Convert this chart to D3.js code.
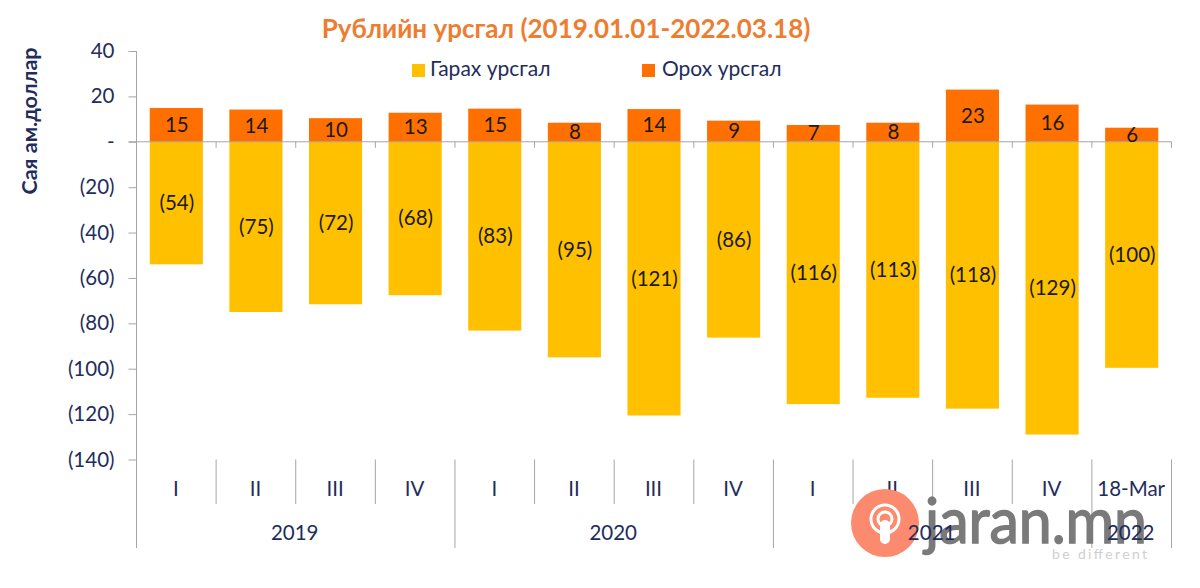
<!DOCTYPE html>
<html>
<head>
<meta charset="utf-8">
<script src="https://cdn.jsdelivr.net/npm/d3@7"></script>
<style>
  html, body { margin: 0; padding: 0; background: #fff; }
  text { font-family: Lato, "Open Sans", sans-serif; }
</style>
</head>
<body>
<script>
// values, million USD
var quarters = ["I","II","III","IV","I","II","III","IV","I","II","III","IV","18-Mar"];
var years = ["2019","2020","2021","2022"];
var yearSpans = [4,4,4,1];
var inflow = [14.9,14.2,10.4,12.8,14.6,8.4,14.4,9.3,7.4,8.4,23,16.4,6.2];
var outflow = [-54,-75,-71.6,-67.6,-83.2,-95,-120.6,-86.3,-115.6,-112.8,-117.6,-129,-99.6];
var yTicks = [40,20,0,-20,-40,-60,-80,-100,-120,-140];

var width = 1200, height = 588;
var navy = "#1f2d5c", grey = "#a6a6a6";
var colorIn = "#ff7000", colorOut = "#ffc000";
var fs = 20.5;

var svg = d3.select("body").append("svg")
    .attr("width", width)
    .attr("height", height)
    .style("display", "block");

var y = d3.scaleLinear().domain([40, -140]).range([51, 459.5]);
var x = d3.scaleBand()
    .domain(d3.range(quarters.length))
    .range([136.5, 1171.5])
    .paddingInner(0.333)
    .paddingOuter(0.1665);

var fmt = v => v === 0 ? "-" : v < 0 ? `(${Math.round(-v)})` : `${Math.round(v)}`;

// title
svg.append("text")
    .attr("x", 566).attr("y", 38)
    .attr("text-anchor", "middle")
    .attr("font-size", 26).attr("font-weight", 700)
    .attr("fill", "#ed7d31")
    .text("Рублийн урсгал (2019.01.01-2022.03.18)");

// y axis title
svg.append("text")
    .attr("transform", "translate(37,121) rotate(-90)")
    .attr("text-anchor", "middle")
    .attr("font-size", 21.5).attr("font-weight", 700)
    .attr("fill", navy)
    .text("Сая ам.доллар");

// legend
var legend = [
  {name: "Гарах урсгал", color: colorOut, sx: 412, tx: 430},
  {name: "Орох урсгал", color: colorIn, sx: 642, tx: 662}
];
legend.forEach(d => {
  svg.append("rect").attr("x", d.sx).attr("y", 64).attr("width", 13).attr("height", 13).attr("fill", d.color);
  svg.append("text").attr("x", d.tx).attr("y", 76)
      .attr("font-size", 21).attr("fill", navy).text(d.name);
});

// bars
svg.append("g").attr("fill", colorOut)
  .selectAll("rect").data(outflow).enter().append("rect")
    .attr("x", (d, i) => x(i))
    .attr("y", y(0))
    .attr("width", x.bandwidth())
    .attr("height", d => y(d) - y(0));

svg.append("g").attr("fill", colorIn)
  .selectAll("rect").data(inflow).enter().append("rect")
    .attr("x", (d, i) => x(i))
    .attr("y", d => y(d))
    .attr("width", x.bandwidth())
    .attr("height", d => y(0) - y(d));

// y axis
var yAxis = d3.axisLeft(y).tickValues(yTicks).tickSize(8).tickPadding(14)
    .tickFormat(fmt);
var gy = svg.append("g").attr("transform", "translate(136.5,0)").call(yAxis);
gy.select(".domain").remove();
gy.selectAll("line").attr("stroke", grey);
gy.selectAll("text").attr("font-size", fs).attr("fill", navy)
    .style("font-family", "Lato, 'Open Sans', sans-serif");

var lines = svg.append("g").attr("stroke", grey).attr("stroke-width", 1).attr("fill", "none");
lines.append("line").attr("x1", 136.5).attr("x2", 136.5).attr("y1", y(40)).attr("y2", 548);
lines.append("line").attr("x1", 128.5).attr("x2", 1171.5).attr("y1", y(0)).attr("y2", y(0));

// band edges: small ticks on the zero line, long ones in the category rows
var step = x.step();
var edge = i => 136.5 + i * step;
d3.range(1, quarters.length + 1).forEach(i => {
  lines.append("line").attr("x1", edge(i)).attr("x2", edge(i)).attr("y1", y(0)).attr("y2", y(0) + 6);
  lines.append("line").attr("x1", edge(i)).attr("x2", edge(i)).attr("y1", 459.5).attr("y2", 504);
});
var pos = 0;
yearSpans.forEach(n => {
  pos += n;
  lines.append("line").attr("x1", edge(pos)).attr("x2", edge(pos)).attr("y1", 504).attr("y2", 548);
});

// data labels
var labelFor = (data, cls) => svg.append("g").attr("class", cls)
  .selectAll("text").data(data).enter().append("text")
    .attr("x", (d, i) => x(i) + x.bandwidth() / 2 + 0.5)
    .attr("y", d => (y(d) + y(0)) / 2 + 7)
    .attr("text-anchor", "middle")
    .attr("font-size", fs)
    .attr("fill", "#1a1a1a")
    .text(fmt);
labelFor(outflow, "lab-out");
labelFor(inflow, "lab-in");

// category rows
svg.append("g").selectAll("text").data(quarters).enter().append("text")
    .attr("x", (d, i) => x(i) + x.bandwidth() / 2 - 0.5)
    .attr("y", 496)
    .attr("text-anchor", "middle")
    .attr("font-size", fs)
    .attr("fill", navy)
    .text(d => d);

// watermark goes under the year labels
var mark = svg.append("g");
mark.append("circle").attr("cx", 885).attr("cy", 523).attr("r", 34).attr("fill", "#fb8a6e");
mark.append("circle").attr("cx", 885).attr("cy", 519).attr("r", 14).attr("fill", "none").attr("stroke", "#fff").attr("stroke-width", 3);
mark.append("circle").attr("cx", 885).attr("cy", 519).attr("r", 7).attr("fill", "none").attr("stroke", "#fff").attr("stroke-width", 3);
mark.append("rect").attr("x", 880).attr("y", 520).attr("width", 10).attr("height", 24).attr("rx", 5).attr("fill", "#fff");
mark.append("text").attr("x", 925).attr("y", 543)
    .attr("font-size", 62).attr("fill", "#7a7a7a")
    .attr("stroke", "#7a7a7a").attr("stroke-width", 1.5)
    .attr("textLength", 222).attr("lengthAdjust", "spacingAndGlyphs")
    .text("jaran.mn");
mark.append("text").attr("x", 1052).attr("y", 559)
    .attr("font-size", 14).attr("fill", "#cfcfcf")
    .attr("textLength", 95)
    .text("be different");

// year labels, centred on their span
var start = 0;
yearSpans.forEach((n, i) => {
  svg.append("text")
      .attr("x", (edge(start) + edge(start + n)) / 2 - 1)
      .attr("y", 540)
      .attr("text-anchor", "middle")
      .attr("font-size", fs)
      .attr("fill", navy)
      .text(years[i]);
  start += n;
});
</script>
</body>
</html>
